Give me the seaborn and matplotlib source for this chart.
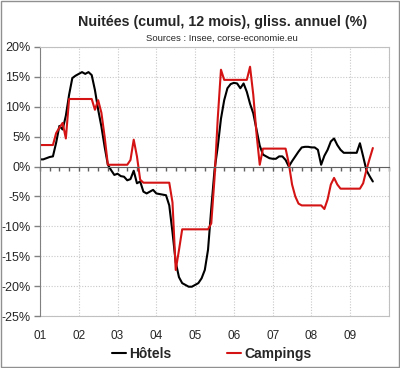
import pandas as pd
import numpy as np
import matplotlib
matplotlib.use("Agg")
import matplotlib.pyplot as plt
import seaborn as sns

# monthly values, Jan 2001 to Aug 2009
months = pd.date_range("2001-01-01", periods=104, freq="MS")

hotels = [1.2, 1.2, 1.4, 1.6, 1.7, 4.0, 6.8, 6.2, 8.5, 12.0, 14.8, 15.2,
          15.5, 15.8, 15.5, 15.8, 15.3, 12.8, 9.5, 6.7, 3.3, 0.3, -0.6, -1.4,
          -1.2, -1.6, -1.7, -2.3, -2.1, -0.7, -2.8, -2.5, -4.2, -4.5, -4.2, -3.9,
          -4.5, -4.6, -4.7, -4.8, -6.5, -11.0, -16.0, -18.5, -19.5, -19.8, -20.1, -20.1,
          -19.8, -19.5, -18.7, -17.3, -13.9, -7.0, -0.6, 3.3, 8.0, 11.1, 13.1, 13.8,
          14.0, 13.9, 13.1, 13.9, 12.5, 10.5, 8.9, 6.2, 3.5, 2.0, 1.7, 1.4,
          1.3, 1.3, 1.7, 1.7, 1.1, 0.0, 0.9, 1.7, 2.5, 3.2, 3.3, 3.3,
          3.2, 3.2, 2.8, 0.3, 1.8, 2.8, 4.2, 4.7, 3.6, 2.8, 2.3, 2.3,
          2.3, 2.3, 2.3, 3.9, 1.7, -0.6, -1.6, -2.5]

campings = [3.6, 3.6, 3.6, 3.6, 3.6, 5.6, 6.5, 7.3, 4.7, 11.3, 11.3, 11.3,
            11.3, 11.3, 11.3, 11.3, 11.3, 9.5, 11.1, 9.0, 5.0, 0.3, 0.3, 0.3,
            0.3, 0.3, 0.3, 0.3, 1.1, 4.5, 1.7, -2.2, -2.7, -2.7, -2.7, -2.7,
            -2.7, -2.7, -2.7, -2.7, -2.7, -6.0, -17.3, -14.0, -10.5, -10.5, -10.5, -10.5,
            -10.5, -10.5, -10.5, -10.5, -10.5, -9.5, -2.0, 8.0, 16.2, 14.5, 14.5, 14.5,
            14.5, 14.5, 14.5, 14.5, 14.5, 16.7, 12.0, 5.5, 0.3, 3.0, 3.0, 3.0,
            3.0, 3.0, 3.0, 3.0, 3.0, 0.5, -3.0, -5.0, -6.2, -6.5, -6.5, -6.5,
            -6.5, -6.5, -6.5, -6.5, -7.1, -5.5, -3.0, -1.9, -3.0, -3.7, -3.7, -3.7,
            -3.7, -3.7, -3.7, -3.7, -2.8, -0.6, 1.3, 3.1]

year_labels = ["01", "02", "03", "04", "05", "06", "07", "08", "09"]

# decimal years so the zero-line axis and the bottom labels share one scale
t = months.year + (months.month - 1) / 12.0
df = pd.DataFrame({"t": np.tile(t, 2),
                   "val": hotels + campings,
                   "serie": ["Hôtels"] * len(hotels) + ["Campings"] * len(campings)})

sns.set_style("white")
plt.rcParams["font.family"] = ["Liberation Sans", "DejaVu Sans"]

fig = plt.figure(figsize=(4.0, 3.68), dpi=100)
ax = fig.add_axes([0.1, 0.1413, 0.8725, 0.731])

sns.lineplot(data=df, x="t", y="val", hue="serie",
             palette={"Hôtels": "black", "Campings": "#d41414"},
             linewidth=1.5, ax=ax)

ax.set_xlim(2001, 2010)
ax.set_ylim(-25, 20)
ax.set_xlabel("")
ax.set_ylabel("")

# y axis
ax.set_yticks(range(-25, 21, 5))
ax.set_yticklabels([f"{v}%" for v in range(-25, 21, 5)])
ax.tick_params(axis="y", left=True, length=4, width=1, color="#808080",
               labelsize=9, pad=3)

# x axis drawn on the zero line, with quarterly ticks
ax.spines["bottom"].set_position(("data", 0))
ax.spines["bottom"].set_color("#606060")
ax.set_xticks(range(2001, 2011))
ax.set_xticks(np.arange(2001, 2010.01, 0.25), minor=True)
ax.tick_params(axis="x", which="both", bottom=True, length=3, width=1,
               color="#606060", labelbottom=False)

ax.spines["left"].set_color("#808080")
for s in ["top", "right"]:
    ax.spines[s].set_color("#c0c0c0")

ax.grid(True, which="major", color="#c8c8c8", linestyle=(0, (1, 1.5)), linewidth=0.8)

# year labels at the bottom of the plot area
sec = ax.secondary_xaxis("bottom")
sec.set_xticks(range(2001, 2010))
sec.set_xticklabels(year_labels)
sec.tick_params(length=0, labelsize=8.5, pad=10)
sec.spines["bottom"].set_color("#c0c0c0")

# legend below the plot
handles, labels = ax.get_legend_handles_labels()
ax.get_legend().remove()
fig.legend(handles, labels, loc="center", bbox_to_anchor=(0.53, 1 - 354 / 368),
           ncol=2, frameon=False, handlelength=1.0, handletextpad=0.25,
           columnspacing=4.0, prop={"weight": "bold", "size": 10})

fig.text(0.557, 1 - 22 / 368, "Nuitées (cumul, 12 mois), gliss. annuel (%)",
         ha="center", va="center", fontsize=10.3, weight="bold")
fig.text(0.555, 1 - 38 / 368, "Sources : Insee, corse-economie.eu",
         ha="center", va="center", fontsize=6.8)

fig.add_artist(plt.Rectangle((0.002, 0.002), 0.995, 0.995, transform=fig.transFigure,
                             fill=False, ec="#909090", lw=1))

fig.savefig("out.png", dpi=100)
